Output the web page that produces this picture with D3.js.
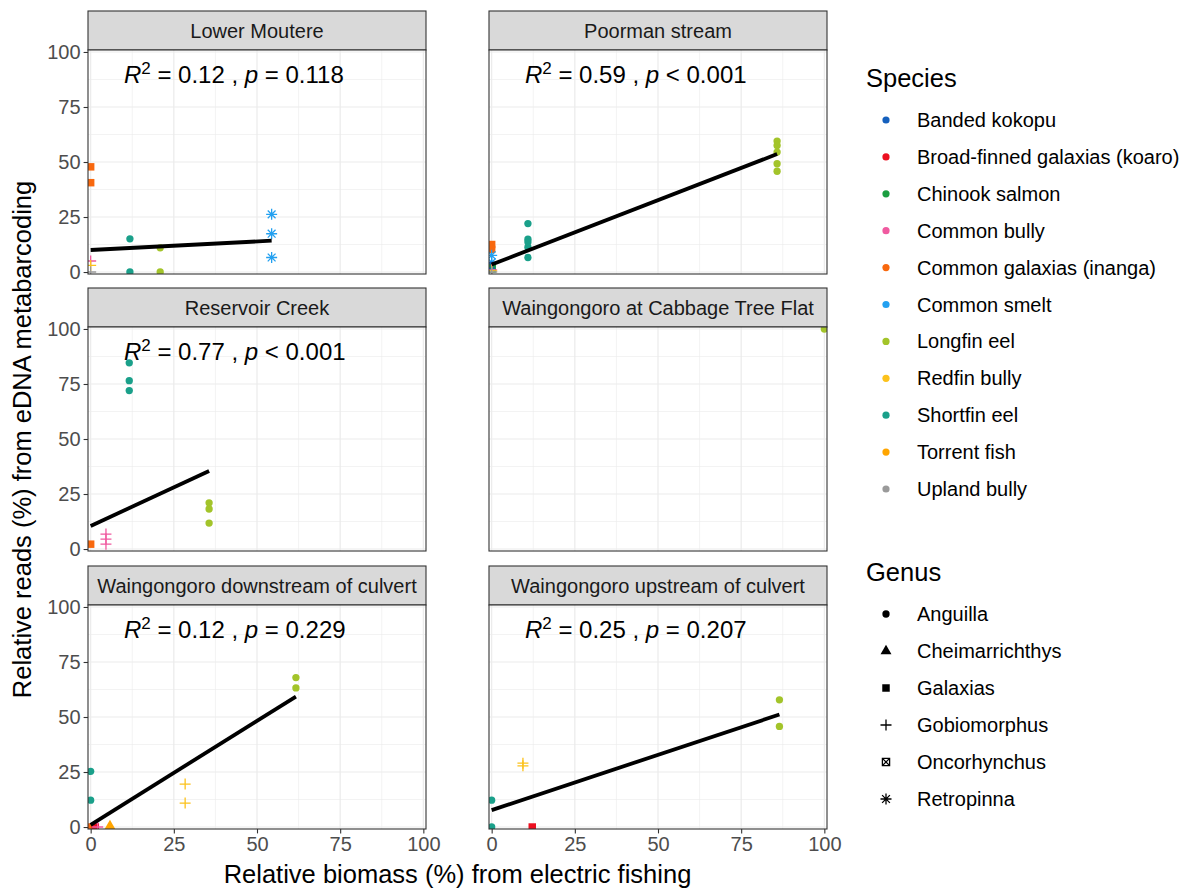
<!DOCTYPE html>
<html><head><meta charset="utf-8">
<script src="https://cdn.jsdelivr.net/npm/d3@7"></script>
<style>body{margin:0;background:#fff}text{font-family:"Liberation Sans",Arial,sans-serif}</style>
</head><body><svg id="c" width="1202" height="895"></svg>
<script>
// ---------- DATA ----------
const sites = ["Lower Moutere","Poorman stream","Reservoir Creek","Waingongoro at Cabbage Tree Flat","Waingongoro downstream of culvert","Waingongoro upstream of culvert"];
const species = ["Banded kokopu","Broad-finned galaxias (koaro)","Chinook salmon","Common bully","Common galaxias (inanga)","Common smelt","Longfin eel","Redfin bully","Shortfin eel","Torrent fish","Upland bully"];
const speciesColors = ["#1560BD","#EC1020","#1B9E40","#F05AA0","#F8680E","#23A0F0","#A3C42A","#FCC21C","#1AA08A","#FFA500","#9A9A9A"];
const speciesGenus = ["Galaxias","Galaxias","Oncorhynchus","Gobiomorphus","Galaxias","Retropinna","Anguilla","Gobiomorphus","Anguilla","Cheimarrichthys","Gobiomorphus"];
const genera = ["Anguilla","Cheimarrichthys","Galaxias","Gobiomorphus","Oncorhynchus","Retropinna"];
const axisTicks = [0,25,50,75,100];
const minorTicks = [12.5,37.5,62.5,87.5];

// points: [species, relative biomass %, relative reads %]
const lowerMoutere = [
  ["Common galaxias (inanga)",0,47.8],["Common galaxias (inanga)",0,40.6],
  ["Shortfin eel",11.8,15.1],["Shortfin eel",11.8,0],
  ["Longfin eel",20.9,11],["Longfin eel",20.9,0],
  ["Common smelt",54.4,26.2],["Common smelt",54.4,17.4],["Common smelt",54.4,6.6],
  ["Common bully",0,5],["Redfin bully",0,3],["Upland bully",0,0]
];
const poormanStream = [
  ["Longfin eel",85.8,59.5],["Longfin eel",85.8,57.5],["Longfin eel",85.8,54.5],["Longfin eel",85.8,49.2],["Longfin eel",85.8,45.8],
  ["Shortfin eel",10.9,22],["Shortfin eel",10.9,14.9],["Shortfin eel",10.9,13.6],["Shortfin eel",10.9,11.3],["Shortfin eel",10.9,6.6],
  ["Common galaxias (inanga)",0,12.5],["Common galaxias (inanga)",0,10.3],
  ["Common smelt",0,7.6],["Common smelt",0,4.4],["Banded kokopu",0,3],
  ["Chinook salmon",0,1.6],["Common bully",0,1],["Redfin bully",0,0.5],["Upland bully",0,0]
];
const reservoirCreek = [
  ["Shortfin eel",11.6,84.6],["Shortfin eel",11.6,76.5],["Shortfin eel",11.6,72],
  ["Longfin eel",35.6,21],["Longfin eel",35.6,18.2],["Longfin eel",35.6,11.8],
  ["Common galaxias (inanga)",0,2.2],
  ["Common bully",4.6,6.8],["Common bully",4.6,4.5],["Common bully",4.6,2.2]
];
const cabbageTreeFlat = [["Longfin eel",100,100]];
const downstreamCulvert = [
  ["Shortfin eel",0,25.3],["Shortfin eel",0,12.2],
  ["Redfin bully",28.4,19.5],["Redfin bully",28.4,10.9],
  ["Longfin eel",61.7,67.9],["Longfin eel",61.7,63.2],
  ["Common galaxias (inanga)",0,0],["Broad-finned galaxias (koaro)",1.4,0],
  ["Common bully",2.1,0],["Torrent fish",5.8,0.4]
];
const upstreamCulvert = [
  ["Shortfin eel",0,12.2],["Shortfin eel",0,0],
  ["Redfin bully",9.4,29],["Redfin bully",9.4,27.8],
  ["Broad-finned galaxias (koaro)",12.2,0],
  ["Longfin eel",86.5,57.8],["Longfin eel",86.5,45.7]
];
const sitePoints = [lowerMoutere,poormanStream,reservoirCreek,cabbageTreeFlat,downstreamCulvert,upstreamCulvert];
const r2Labels = ["0.12","0.59","0.77",null,"0.12","0.25"];
const pLabels = ["= 0.118","< 0.001","< 0.001",null,"= 0.229","= 0.207"];
const fitIntercept = [10,3.4,10.5,null,1.0,7.7];
const fitSlope = [0.078,0.585,0.70,null,0.945,0.502];
const labelPos = [10,86];

// ---------- LAYOUT ----------
const svg = d3.select("#c");
const colX = [88,489], rowTop = [50,327,605], pw = 338, ph = 224, stripH = 39;
const x = d3.scaleLinear().domain([-0.8,100.8]).range([0,pw]);
const y = d3.scaleLinear().domain([-0.9,100.9]).range([ph,0]);
const colorOf = d3.scaleOrdinal().domain(species).range(speciesColors);
const genusOf = d3.scaleOrdinal().domain(species).range(speciesGenus);

function shapePath(g){
  switch(g){
    case "Anguilla": return {d:d3.symbol(d3.symbolCircle,42)(), fill:true};
    case "Cheimarrichthys": return {d:d3.symbol(d3.symbolTriangle,52)(), fill:true};
    case "Galaxias": return {d:d3.symbol(d3.symbolSquare,56)(), fill:true};
    case "Gobiomorphus": return {d:"M-5.5,0H5.5M0,-5.5V5.5", fill:false};
    case "Oncorhynchus": return {d:"M-3.6,-3.6H3.6V3.6H-3.6ZM-3.6,-3.6L3.6,3.6M3.6,-3.6L-3.6,3.6", fill:false};
    case "Retropinna": return {d:"M-5.5,0H5.5M0,-5.5V5.5M-3.9,-3.9L3.9,3.9M3.9,-3.9L-3.9,3.9", fill:false};
  }
}
function drawShape(sel, g, col){
  const s = shapePath(g);
  sel.append("path").attr("d",s.d)
    .attr("fill", s.fill ? col : "none")
    .attr("stroke", s.fill ? "none" : col)
    .attr("stroke-width", s.fill ? 0 : 1.3);
}

const defs = svg.append("defs");
sites.forEach((site,i)=>{
  const c = i%2, r = Math.floor(i/2);
  const gx = colX[c], gy = rowTop[r];
  defs.append("clipPath").attr("id","clip"+i).append("rect").attr("width",pw).attr("height",ph);
  // strip
  svg.append("rect").attr("x",gx).attr("y",gy-stripH).attr("width",pw).attr("height",stripH)
    .attr("fill","#d9d9d9").attr("stroke","#333").attr("stroke-width",1.1);
  svg.append("text").attr("x",gx+pw/2).attr("y",gy-stripH/2).attr("dy","0.35em")
    .attr("text-anchor","middle").attr("font-size",20).attr("fill","#1a1a1a").text(site);
  const g = svg.append("g").attr("transform",`translate(${gx},${gy})`);
  g.append("rect").attr("width",pw).attr("height",ph).attr("fill","#fff");
  const grid = g.append("g");
  minorTicks.forEach(t=>{
    grid.append("line").attr("x1",x(t)).attr("x2",x(t)).attr("y1",0).attr("y2",ph).attr("stroke","#ebebeb").attr("stroke-width",0.6);
    grid.append("line").attr("y1",y(t)).attr("y2",y(t)).attr("x1",0).attr("x2",pw).attr("stroke","#ebebeb").attr("stroke-width",0.6);
  });
  axisTicks.forEach(t=>{
    grid.append("line").attr("x1",x(t)).attr("x2",x(t)).attr("y1",0).attr("y2",ph).attr("stroke","#ebebeb").attr("stroke-width",1.2);
    grid.append("line").attr("y1",y(t)).attr("y2",y(t)).attr("x1",0).attr("x2",pw).attr("stroke","#ebebeb").attr("stroke-width",1.2);
  });
  const inner = g.append("g").attr("clip-path",`url(#clip${i})`);
  const pts = sitePoints[i];
  pts.forEach(p=>{
    const pg = inner.append("g").attr("transform",`translate(${x(p[1])},${y(p[2])})`);
    drawShape(pg, genusOf(p[0]), colorOf(p[0]));
  });
  if(fitIntercept[i]!==null){
    const xs = d3.extent(pts,p=>p[1]);
    inner.append("line")
      .attr("x1",x(xs[0])).attr("y1",y(fitIntercept[i]+fitSlope[i]*xs[0]))
      .attr("x2",x(xs[1])).attr("y2",y(fitIntercept[i]+fitSlope[i]*xs[1]))
      .attr("stroke","#000").attr("stroke-width",3.8);
    const t = g.append("text").attr("x",x(labelPos[0])).attr("y",y(labelPos[1])).attr("font-size",24).attr("fill","#000");
    t.append("tspan").attr("font-style","italic").text("R");
    t.append("tspan").attr("font-size",17).attr("dy",-9).text("2");
    t.append("tspan").attr("dy",9).text(" = "+r2Labels[i]+" , ");
    t.append("tspan").attr("font-style","italic").text("p");
    t.append("tspan").text(" "+pLabels[i]);
  }
  g.append("rect").attr("width",pw).attr("height",ph).attr("fill","none").attr("stroke","#333").attr("stroke-width",1.1);
  // axes
  if(c===0){
    const ax = g.append("g").call(d3.axisLeft(y).tickValues(axisTicks).tickSize(4.4).tickPadding(3));
    ax.select(".domain").remove();
    ax.selectAll("line").attr("stroke","#333").attr("stroke-width",1.1);
    ax.selectAll("text").attr("font-size",20).attr("fill","#4d4d4d").attr("font-family","Liberation Sans, Arial, sans-serif");
  }
  if(r===2){
    const ax = g.append("g").attr("transform",`translate(0,${ph})`).call(d3.axisBottom(x).tickValues(axisTicks).tickSize(4.4).tickPadding(3));
    ax.select(".domain").remove();
    ax.selectAll("line").attr("stroke","#333").attr("stroke-width",1.1);
    ax.selectAll("text").attr("font-size",20).attr("fill","#4d4d4d").attr("font-family","Liberation Sans, Arial, sans-serif");
  }
});

// axis titles
svg.append("text").attr("x",(colX[0]+colX[1]+pw)/2).attr("y",883).attr("text-anchor","middle")
  .attr("font-size",25.5).attr("fill","#000").text("Relative biomass (%) from electric fishing");
svg.append("text").attr("transform",`translate(31,${(rowTop[0]+rowTop[2]+ph)/2}) rotate(-90)`).attr("text-anchor","middle")
  .attr("font-size",25.5).attr("fill","#000").text("Relative reads (%) from eDNA metabarcoding");

// legends
const lg = svg.append("g");
lg.append("text").attr("x",866).attr("y",87).attr("font-size",25.5).text("Species");
species.forEach((s,k)=>{
  const cy = 120 + k*36.9;
  lg.append("circle").attr("cx",886).attr("cy",cy).attr("r",3.6).attr("fill",colorOf(s));
  lg.append("text").attr("x",917).attr("y",cy).attr("dy","0.35em").attr("font-size",20).attr("fill","#000").text(s);
});
lg.append("text").attr("x",866).attr("y",581).attr("font-size",25.5).text("Genus");
genera.forEach((gname,k)=>{
  const cy = 614 + k*37;
  const kg = lg.append("g").attr("transform",`translate(886,${cy})`);
  drawShape(kg, gname, "#000");
  lg.append("text").attr("x",917).attr("y",cy).attr("dy","0.35em").attr("font-size",20).attr("fill","#000").text(gname);
});
</script></body></html>
